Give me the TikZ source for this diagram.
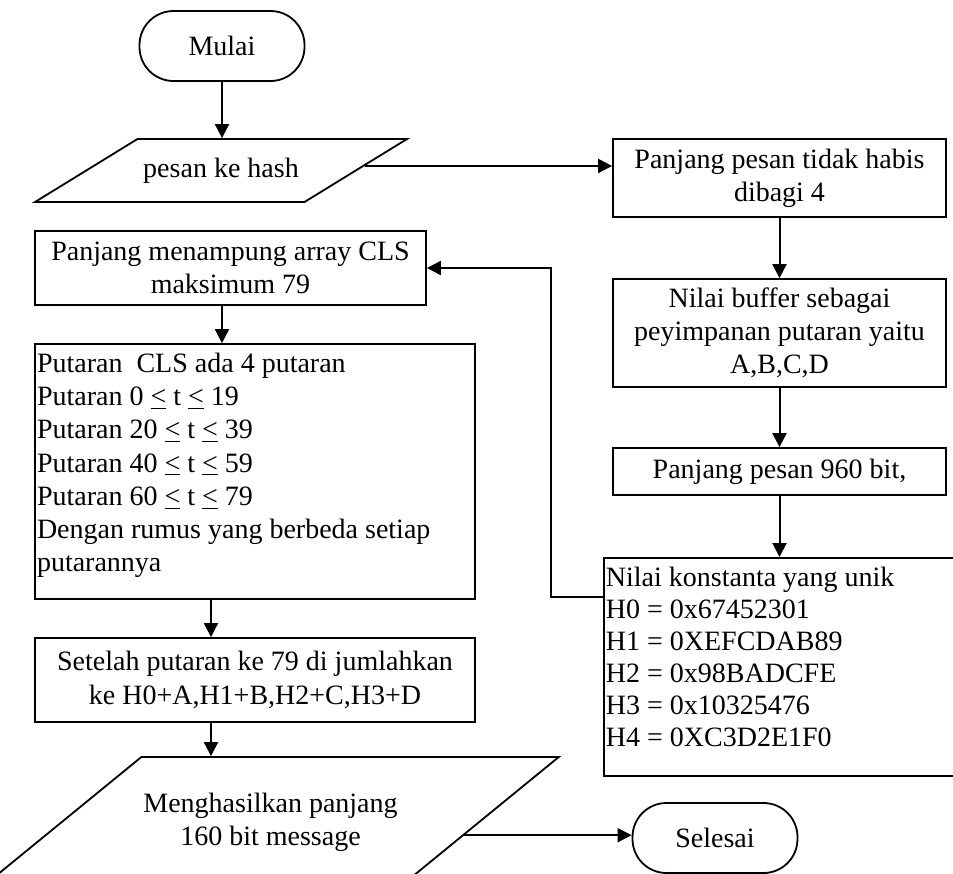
\documentclass[tikz,border=0pt]{standalone}
\usepackage{fontspec}
\setmainfont{Liberation Serif}
\usetikzlibrary{shapes.geometric,arrows.meta,calc}

\tikzset{
  every node/.style={font=\fontsize{14}{16.6}\selectfont},
  terminal/.style={draw, line width=0.9pt, rounded corners=17pt, minimum width=82.5pt, minimum height=35pt},
  proses/.style={draw, line width=0.9pt, rectangle, inner sep=1pt, align=center},
  daftar/.style={draw, line width=0.9pt, rectangle, inner sep=1pt},
  masukan/.style={draw, line width=0.9pt, trapezium, trapezium stretches body, inner sep=1pt, align=center},
  panah/.style={line width=1pt, -{Triangle[length=7pt,width=7pt]}}
}

\begin{document}
\begin{tikzpicture}[x=0.5pt,y=0.5pt,yscale=-1,xscale=1]
\useasboundingbox (0,0) rectangle (953,873);
\clip (0,0) rectangle (953,873);

% Terminal
\node [terminal] (mulai) at (222,46) {Mulai};
% Input
\node [masukan, trapezium left angle=16, trapezium right angle=164, minimum width=186pt, minimum height=31.5pt] (pesan) at (221,170.5) {pesan ke hash};
% Process
\node [proses, minimum width=166.5pt, minimum height=39pt] (tidak) at (779.5,178) {Panjang pesan tidak habis\\dibagi 4};
% Process
\node [proses, minimum width=166.5pt, minimum height=54pt] (buffer) at (779.5,333) {Nilai buffer sebagai\\peyimpanan putaran yaitu\\A,B,C,D};
% Process
\node [proses, minimum width=166.5pt, minimum height=23.5pt] (bit) at (779.5,471.5) {Panjang pesan 960 bit,};
% Process
\node [daftar, anchor=north west] (konstanta) at (603,557) {\begin{minipage}[t][107pt][t]{185pt}\raggedright\fontsize{14}{16}\selectfont
\vspace*{3.5pt}Nilai konstanta yang unik\\H0 = 0x67452301\\H1 = 0XEFCDAB89\\H2 = 0x98BADCFE\\H3 = 0x10325476\\H4 = 0XC3D2E1F0\end{minipage}};
% Process
\node [proses, minimum width=195.5pt, minimum height=37pt] (menampung) at (230.5,268) {Panjang menampung array CLS\\maksimum 79};
% Process
\node [daftar] (putaran) at (255,471.5) {\begin{minipage}[t][125.5pt][t]{218pt}\raggedright
\vspace*{3.5pt}Putaran~ CLS ada 4 putaran\\Putaran 0 \underline{<} t \underline{<} 19\\Putaran 20 \underline{<} t \underline{<} 39\\Putaran 40 \underline{<} t \underline{<} 59\\Putaran 60 \underline{<} t \underline{<} 79\\Dengan rumus yang berbeda setiap\\putarannya\end{minipage}};
% Process
\node [proses, minimum width=220pt, minimum height=42pt] (setelah) at (255,680) {Setelah putaran ke 79 di jumlahkan\\ke H0+A,H1+B,H2+C,H3+D};
% Output
\node [masukan, trapezium left angle=21.5, trapezium right angle=158.5, minimum width=268.5pt, minimum height=65pt] (hasil) at (270.5,822) {Menghasilkan panjang\\160 bit message};
% Terminal
\node [terminal] (selesai) at (715,838) {Selesai};

% Connectors
\draw [panah] (mulai) -- (pesan.north -| mulai);
\coordinate (kanan) at ($(pesan.top right corner)!0.43!(pesan.bottom right corner)$);
\draw [panah] (kanan) -- (kanan -| tidak.west);
\draw [panah] (tidak) -- (buffer);
\draw [panah] (buffer) -- (bit);
\draw [panah] (bit.south) -- (bit.south |- konstanta.north);
\coordinate (balik) at (551,264);
\draw [panah] ([yshift=20pt]konstanta.north west) -- ([yshift=20pt]konstanta.north west -| balik) -- (balik |- menampung.east) -- (menampung.east);
\draw [panah] (menampung.south -| mulai) -- (putaran.north -| mulai);
\coordinate (tengah) at (211,600);
\draw [panah] (putaran.south -| tengah) -- (setelah.north -| tengah);
\draw [panah] (setelah.south -| tengah) -- (hasil.north -| tengah);
\coordinate (keluar) at ($(hasil.top right corner)!0.6!(hasil.bottom right corner)$);
\draw [panah] (keluar) -- (keluar -| selesai.west);
\end{tikzpicture}
\end{document}
